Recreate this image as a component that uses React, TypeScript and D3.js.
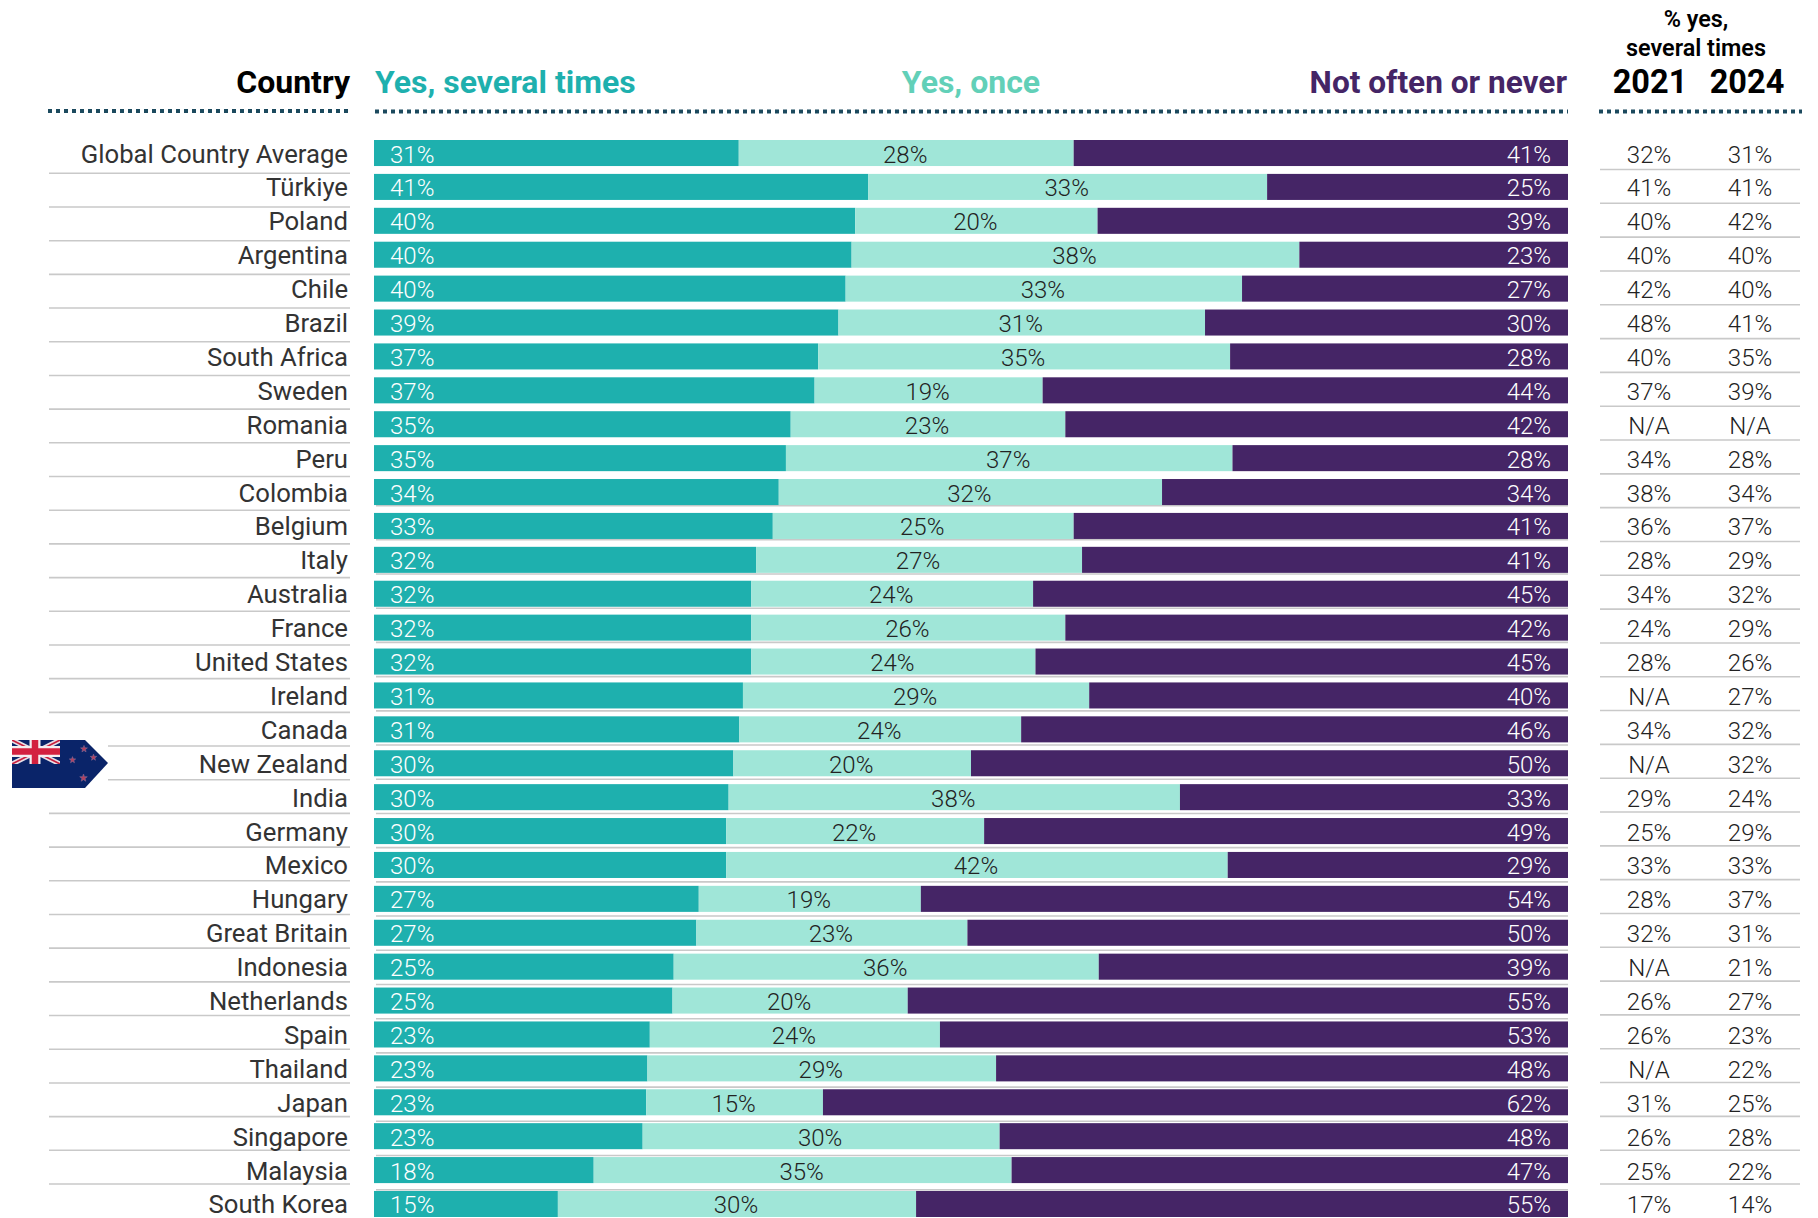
import React from 'react';
import * as d3 from 'd3';

const countries = ['Global Country Average','Türkiye','Poland','Argentina','Chile','Brazil','South Africa','Sweden','Romania','Peru','Colombia','Belgium','Italy','Australia','France','United States','Ireland','Canada','New Zealand','India','Germany','Mexico','Hungary','Great Britain','Indonesia','Netherlands','Spain','Thailand','Japan','Singapore','Malaysia','South Korea'];
const several = [30.55,41.4,40.3,40.0,39.5,38.9,37.2,36.9,34.9,34.5,33.9,33.4,32.0,31.6,31.6,31.6,30.9,30.6,30.1,29.7,29.5,29.5,27.2,27.0,25.1,25.0,23.1,22.9,22.8,22.5,18.4,15.4];
const once = [28.05,33.4,20.3,37.5,33.2,30.7,34.5,19.1,23.0,37.4,32.1,25.2,27.3,23.6,26.3,23.8,29.0,23.6,19.9,37.8,21.6,42.0,18.6,22.7,35.6,19.7,24.3,29.2,14.8,29.9,35.0,30.0];
const notOften = [41.4,25.2,39.4,22.5,27.3,30.4,28.3,44.0,42.1,28.1,34.0,41.4,40.7,44.8,42.1,44.6,40.1,45.8,50.0,32.5,48.9,28.5,54.2,50.3,39.3,55.3,52.6,47.9,62.4,47.6,46.6,54.6];
const y2021 = ['32%','41%','40%','40%','42%','48%','40%','37%','N/A','34%','38%','36%','28%','34%','24%','28%','N/A','34%','N/A','29%','25%','33%','28%','32%','N/A','26%','26%','N/A','31%','26%','25%','17%'];
const y2024 = ['31%','41%','42%','40%','40%','41%','35%','39%','N/A','28%','34%','37%','29%','32%','29%','26%','27%','32%','32%','24%','29%','33%','37%','31%','21%','27%','23%','22%','25%','28%','22%','14%'];
const seriesKeys = ['several', 'once', 'notOften'];
const seriesNames = ['Yes, several times', 'Yes, once', 'Not often or never'];

const TEAL = '#1eb0ae';
const MINT = '#a0e6d8';
const PURPLE = '#452566';
const RULE = '#c9c9c9';
const DOTS = '#1c4a5e';
const FONT = 'Roboto, sans-serif';

const rows = countries.map((c, i) => ({ c, several: several[i], once: once[i], notOften: notOften[i] }));
const stacked = d3.stack<any>().keys(seriesKeys)(rows);
const fills = d3.scaleOrdinal<string>().domain(seriesKeys).range([TEAL, MINT, PURPLE]);

const x = d3.scaleLinear().domain([0, 100]).range([374, 1568]);
const y = d3.scaleBand().domain(countries).range([140, 1217]).paddingInner(0.232);
const rowIndex = d3.scaleLinear().domain([0, 30]);
const countryRule = rowIndex.copy().range([173.3, 1184]);
const tableRule = rowIndex.copy().range([169.5, 1184]);
const barRule = d3.scaleLinear().domain([11, 31]).range([505.6, 1189.7]);

const col2021 = 1649;
const col2024 = 1750;

const Star = ({ cx, cy, r }: { cx: number; cy: number; r: number }) => {
  const pts = d3.range(10).map(i => {
    const a = (i * Math.PI) / 5 - Math.PI / 2;
    const rr = i % 2 ? r * 0.42 : r;
    return `${cx + rr * Math.cos(a)},${cy + rr * Math.sin(a)}`;
  });
  return <polygon points={pts.join(' ')} fill="#b5405f" stroke="#7f6a96" strokeWidth={0.6} />;
};

// New Zealand flag tag next to its row
const Flag = () => (
  <g>
    <defs>
      <clipPath id="tag"><polygon points="12,740 85,740 108,763 85,788 12,788" /></clipPath>
      <clipPath id="jack"><rect x={12} y={740} width={48} height={24} /></clipPath>
    </defs>
    <g clipPath="url(#tag)">
      <rect x={12} y={740} width={100} height={48} fill="#0a2469" />
      <g clipPath="url(#jack)">
        <path d="M12,740L60,764M60,740L12,764" stroke="#e9dfe6" strokeWidth={5} />
        <path d="M12,740L60,764M60,740L12,764" stroke="#c8203f" strokeWidth={1.6} />
        <path d="M35,740V764M12,751.5H60" stroke="#f4eef0" strokeWidth={11} />
        <path d="M35,740V764M12,751.5H60" stroke="#d3213f" strokeWidth={6.5} />
      </g>
      <Star cx={84} cy={749} r={3.6} />
      <Star cx={93.5} cy={757.5} r={3.4} />
      <Star cx={72.5} cy={760} r={3.4} />
      <Star cx={83.5} cy={778} r={4} />
    </g>
  </g>
);

export default function App() {
  return (
    <svg width={1818} height={1218} style={{ position: 'absolute', left: 0, top: 0, background: '#fff' }} fontFamily={FONT}>
      {/* headers */}
      <g fontSize={32} fontWeight={700}>
        <text x={350} y={93} textAnchor="end" fill="#000">Country</text>
        <text x={375} y={93} fill={TEAL}>{seriesNames[0]}</text>
        <text x={971} y={93} textAnchor="middle" fill="#62d0b8">{seriesNames[1]}</text>
        <text x={1567} y={93} textAnchor="end" fill={PURPLE} fontSize={31.6}>{seriesNames[2]}</text>
        <text x={1650} y={93} textAnchor="middle" fill="#000" fontSize={32.5}>2021</text>
        <text x={1747} y={93} textAnchor="middle" fill="#000" fontSize={32.5}>2024</text>
      </g>
      <g fontSize={23.4} fontWeight={600} textAnchor="middle" fill="#000">
        <text x={1696} y={27}>% yes,</text>
        <text x={1696} y={56}>several times</text>
      </g>
      <g stroke={DOTS} strokeWidth={4} strokeDasharray="4 4">
        <line x1={48} x2={348} y1={111} y2={111} />
        <line x1={375} x2={1568} y1={111.5} y2={111.5} />
        <line x1={1599} x2={1802} y1={111.5} y2={111.5} />
      </g>

      {/* row rules */}
      <g stroke={RULE} strokeWidth={1.6}>
        {countries.slice(0, -1).map((c, i) => (
          <line key={c} x1={i === 17 || i === 18 ? 108 : 49} x2={350} y1={countryRule(i)} y2={countryRule(i)} />
        ))}
        {countries.slice(0, -1).map((c, i) => (
          <line key={c} x1={1600} x2={1800} y1={tableRule(i)} y2={tableRule(i)} />
        ))}
        {d3.range(11, 32).map(i => (
          <line key={i} x1={376} x2={1568} y1={barRule(i)} y2={barRule(i)} />
        ))}
      </g>

      {/* stacked bars */}
      {stacked.map(s => (
        <g key={s.key} fill={fills(s.key)}>
          {s.map(d => (
            <rect key={d.data.c} x={x(d[0])} y={y(d.data.c)} width={x(d[1]) - x(d[0])} height={y.bandwidth()} />
          ))}
        </g>
      ))}

      {/* labels per row */}
      <g fontSize={24} fontWeight={300}>
        {rows.map((r, i) => {
          const base = (y(r.c) as number) + y.bandwidth() / 2 + 9.5;
          return (
            <g key={r.c}>
              <text x={348} y={base} textAnchor="end" fill="#333" fontSize={25.7} fontWeight={400}>{r.c}</text>
              <text x={390} y={base} fill="#fff">{Math.round(r.several)}%</text>
              <text x={x(r.several + r.once / 2) - 1} y={base} textAnchor="middle" fill="#222">{Math.round(r.once)}%</text>
              <text x={1551} y={base} textAnchor="end" fill="#fff">{Math.round(r.notOften)}%</text>
              <text x={col2021} y={base} textAnchor="middle" fill="#222">{y2021[i]}</text>
              <text x={col2024} y={base} textAnchor="middle" fill="#222">{y2024[i]}</text>
            </g>
          );
        })}
      </g>

      <Flag />
    </svg>
  );
}
